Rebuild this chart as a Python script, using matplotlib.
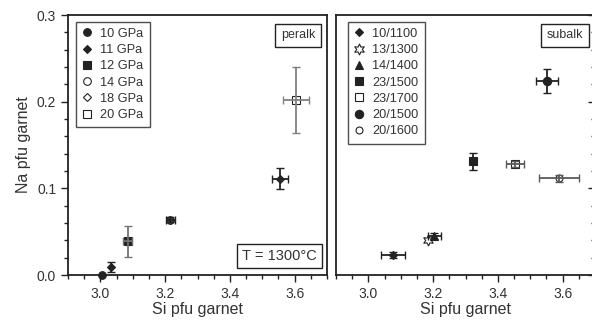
import matplotlib
matplotlib.use("Agg")
import matplotlib.pyplot as plt
from matplotlib.ticker import MultipleLocator

plt.rcParams["font.family"] = ["Liberation Sans", "DejaVu Sans"]

# peralkaline series (left panel)
labels_l = ["10 GPa", "11 GPa", "12 GPa", "14 GPa", "18 GPa", "20 GPa"]
si_l = [3.005, 3.033, 3.084, 3.216, 3.554, 3.605]
na_l = [0.000, 0.009, 0.039, 0.064, 0.111, 0.202]
si_err_l = [0.0, 0.0, 0.015, 0.014, 0.024, 0.040]
na_err_l = [0.0, 0.006, 0.018, 0.003, 0.012, 0.038]

# subalkaline series (right panel), P (GPa) / T (degC)
labels_r = ["10/1100", "13/1300", "14/1400", "23/1500", "23/1700", "20/1500", "20/1600"]
si_r = [3.075, 3.185, 3.203, 3.322, 3.453, 3.552, 3.590]
na_r = [0.023, 0.040, 0.045, 0.131, 0.128, 0.224, 0.1115]
si_err_r = [0.037, 0.0, 0.020, 0.005, 0.029, 0.035, 0.062]
na_err_r = [0.003, 0.0, 0.003, 0.010, 0.003, 0.0135, 0.004]

DARK = "#222222"
TXT = "#333333"

# (marker, size, face in plot, face in legend, errorbar colour)
styles_l = [
    ("o", 5.5, DARK, DARK, DARK),
    ("D", 4, DARK, DARK, DARK),
    ("s", 5.5, DARK, DARK, "0.45"),
    ("o", 5.5, "0.25", "white", DARK),
    ("D", 4.5, "0.2", "white", DARK),
    ("s", 5.5, "white", "white", "0.5"),
]
styles_r = [
    ("D", 4, DARK, DARK, DARK),
    ((6, 1, 0), 8, "white", "white", "0.4"),
    ("^", 5.5, DARK, DARK, DARK),
    ("s", 5.5, DARK, DARK, DARK),
    ("s", 5.5, "white", "white", "0.35"),
    ("o", 6, DARK, DARK, DARK),
    ("o", 5, "white", "white", "0.35"),
]


def draw(ax, xs, ys, xerr, yerr, labels, styles):
    handles = []
    for x, y, xe, ye, lab, st in zip(xs, ys, xerr, yerr, labels, styles):
        mk, ms, face, legface, ecol = st
        ax.plot(x, y, linestyle="none", marker=mk, ms=ms, mfc=face, mec=DARK,
                mew=0.8, zorder=3, clip_on=False)
        h, = ax.plot([], [], linestyle="none", marker=mk, ms=ms, mfc=legface,
                     mec=DARK, mew=0.8, label=lab)
        handles.append(h)
        if xe or ye:
            ax.errorbar(x, y, xerr=xe if xe else None, yerr=ye if ye else None,
                        fmt="none", ecolor=ecol, elinewidth=1.3,
                        capsize=3, capthick=1.0, zorder=4)
    return handles


def style_axes(ax):
    ax.set_xlim(2.9, 3.7)
    ax.set_ylim(0.0, 0.3)
    ax.xaxis.set_major_locator(MultipleLocator(0.2))
    ax.xaxis.set_minor_locator(MultipleLocator(0.05))
    ax.yaxis.set_major_locator(MultipleLocator(0.1))
    ax.yaxis.set_minor_locator(MultipleLocator(0.02))
    for s in ax.spines.values():
        s.set_linewidth(1.3)
        s.set_color(DARK)
    ax.tick_params(which="both", colors=DARK, labelcolor=TXT,
                   labelsize=10, width=1.0)
    ax.tick_params(which="major", length=5)
    ax.tick_params(which="minor", length=3)
    ax.set_xlabel("Si pfu garnet", fontsize=11.5, color=TXT, labelpad=1)


fig = plt.figure(figsize=(5.92, 3.2), dpi=100)
ax1 = fig.add_axes([0.1149, 0.1406, 0.4375, 0.8125])
ax2 = fig.add_axes([0.5676, 0.1406, 0.4375, 0.8125])

style_axes(ax1)
style_axes(ax2)
ax1.tick_params(which="both", direction="out", top=False, right=False)
ax1.set_yticklabels([f"{v:.1f}" for v in ax1.get_yticks()])
ax1.set_xticklabels([f"{v:.1f}" for v in ax1.get_xticks()])
ax1.set_ylabel("Na pfu garnet", fontsize=11.5, color=TXT, labelpad=4)
ax2.tick_params(which="both", direction="out", top=False, left=False,
                labelleft=False)
ax2.tick_params(axis="y", which="both", right=True, direction="in",
                labelright=False)
ax2.set_xticklabels([f"{v:.1f}" for v in ax2.get_xticks()])

h1 = draw(ax1, si_l, na_l, si_err_l, na_err_l, labels_l, styles_l)
h2 = draw(ax2, si_r, na_r, si_err_r, na_err_r, labels_r, styles_r)

for ax, hs, xoff in ((ax1, h1, 0.03), (ax2, h2, 0.045)):
    leg = ax.legend(handles=hs, loc="upper left", bbox_to_anchor=(xoff, 0.975),
                    fontsize=9.2, frameon=True, fancybox=False,
                    handlelength=0.8, handletextpad=0.6, labelspacing=0.33,
                    borderpad=0.5, borderaxespad=0.0, numpoints=1)
    leg.get_frame().set_edgecolor(DARK)
    leg.get_frame().set_linewidth(1.0)
    for t in leg.get_texts():
        t.set_color(TXT)

box = dict(boxstyle="square,pad=0.45", fc="white", ec=DARK, lw=1.0)
ax1.text(0.955, 0.945, "peralk", transform=ax1.transAxes, ha="right",
         va="top", fontsize=9, color=TXT, bbox=box)
ax2.text(0.955, 0.945, "subalk", transform=ax2.transAxes, ha="right",
         va="top", fontsize=9, color=TXT, bbox=box)
ax1.text(0.96, 0.045, "T = 1300°C", transform=ax1.transAxes, ha="right",
         va="bottom", fontsize=10.5, color=TXT,
         bbox=dict(boxstyle="square,pad=0.35", fc="white", ec=DARK, lw=1.0))

fig.savefig("out.png", dpi=100)
